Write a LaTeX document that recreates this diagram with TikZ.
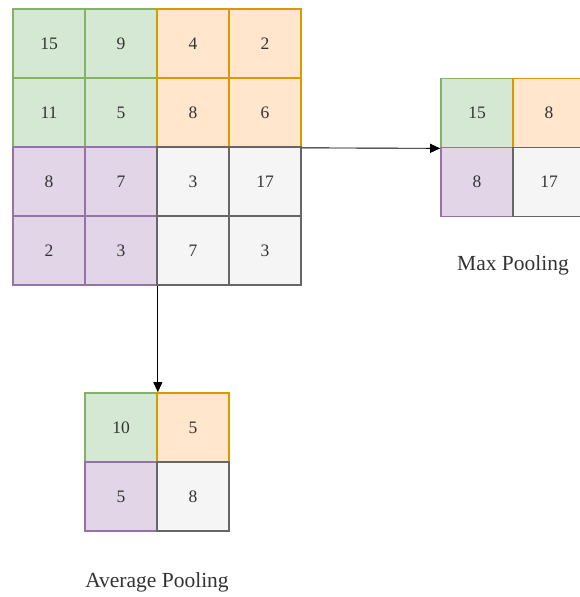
\documentclass[tikz,border=0pt]{standalone}
\usepackage{fontspec}
\setmainfont{Liberation Serif}
\usetikzlibrary{arrows.meta}
\definecolor{gfill}{HTML}{D5E8D4}\definecolor{gline}{HTML}{82B366}
\definecolor{ofill}{HTML}{FFE6CC}\definecolor{oline}{HTML}{D79B00}
\definecolor{pfill}{HTML}{E1D5E7}\definecolor{pline}{HTML}{9673A6}
\definecolor{wfill}{HTML}{F5F5F5}\definecolor{wline}{HTML}{666666}
\definecolor{wtext}{HTML}{333333}
\begin{document}
\begin{tikzpicture}[x=1pt,y=-1pt,>={Triangle[length=10pt,width=9pt]},
 cell/.style={draw,line width=1.7pt,minimum width=72pt,minimum height=69pt,inner sep=0pt,text=wtext,font=\fontsize{17.5}{17.5}\selectfont},
 gcell/.style={cell,fill=gfill,draw=gline},
 ocell/.style={cell,fill=ofill,draw=oline},
 pcell/.style={cell,fill=pfill,draw=pline},
 wcell/.style={cell,fill=wfill,draw=wline},
 lbl/.style={font=\fontsize{21.5}{21.5}\selectfont,text=wtext}]
 \useasboundingbox[fill=white] (0,0) rectangle (579,597);
 \foreach \r/\c/\v/\s in {1/1/15/gcell,1/2/9/gcell,2/1/11/gcell,2/2/5/gcell,
   1/3/4/ocell,1/4/2/ocell,2/3/8/ocell,2/4/6/ocell,
   3/1/8/pcell,3/2/7/pcell,4/1/2/pcell,4/2/3/pcell,
   3/3/3/wcell,3/4/17/wcell,4/3/7/wcell,4/4/3/wcell}
  \node[\s] (c\r\c) at ({72*\c-23},{69*\r-25.5}) {\v};
 \node[gcell] (m11) at (477,113) {15}; \node[ocell] (m12) at (549,113) {8};
 \node[pcell] (m21) at (477,182) {8}; \node[wcell] (m22) at (549,182) {17};
 \node[gcell] (a11) at (121,427.5) {10}; \node[ocell] (a12) at (193,427.5) {5};
 \node[pcell] (a21) at (121,496.5) {5}; \node[wcell] (a22) at (193,496.5) {8};
 \node[lbl] (maxlbl) at (513,265) {Max Pooling};
 \node[lbl] (avglbl) at (157,582) {Average Pooling};
 \draw[->,line width=0.9pt] (c24.south east) -- (m11.south west);
 \draw[->,line width=0.9pt] (c42.south east) -- (a11.north east);
\end{tikzpicture}
\end{document}
